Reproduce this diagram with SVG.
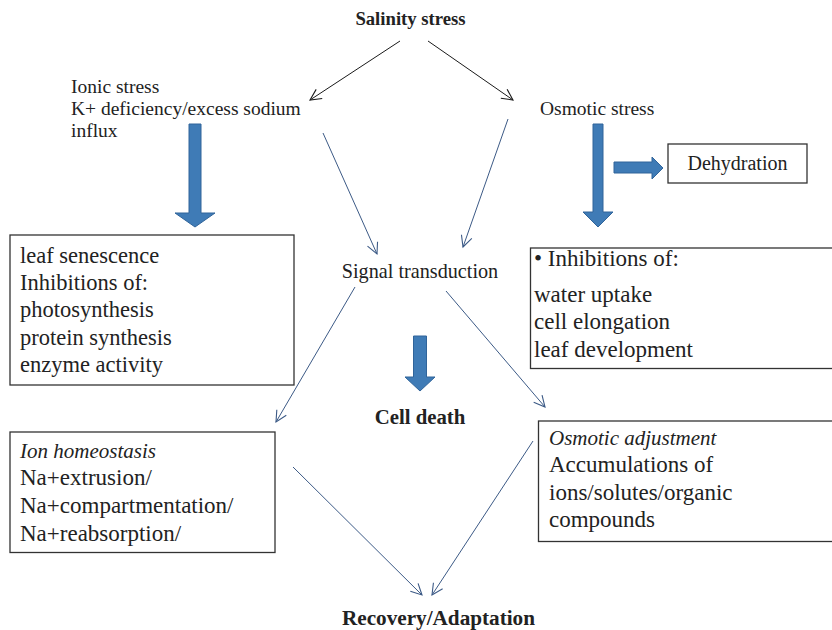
<svg xmlns="http://www.w3.org/2000/svg" width="832" height="630" viewBox="0 0 832 630" font-family="'Liberation Serif', 'Times New Roman', serif">
<style>
text{font-family:"Liberation Serif","Times New Roman",serif;fill:#222}
.lbl{font-size:19.5px}
.tb{font-size:22.5px}
.tc{font-size:23px}
.ti{font-style:italic;font-size:21px}
.b{font-weight:bold}
.box{fill:#fff;stroke:#333;stroke-width:1.3}
.big{fill:#3f7bb6;stroke:#30649a;stroke-width:1}
.k{stroke:#1a1a1a;stroke-width:1;fill:none}
.u{stroke:#3c5a86;stroke-width:1;fill:none}
</style>
<defs>
<marker id="ak" markerUnits="userSpaceOnUse" markerWidth="14" markerHeight="14" viewBox="0 0 14 14" refX="12" refY="7" orient="auto">
<path d="M1,1.5 L12,7 L1,12.5" fill="none" stroke="#1a1a1a" stroke-width="1.1"/>
</marker>
<marker id="au" markerUnits="userSpaceOnUse" markerWidth="14" markerHeight="14" viewBox="0 0 14 14" refX="12" refY="7" orient="auto">
<path d="M1,1.5 L12,7 L1,12.5" fill="none" stroke="#3c5a86" stroke-width="1.1"/>
</marker>
</defs>

<g id="connectors">
<line class="k" x1="400" y1="41" x2="310" y2="100" marker-end="url(#ak)"/>
<line class="k" x1="428" y1="41" x2="513" y2="100" marker-end="url(#ak)"/>
<line class="u" x1="323" y1="133" x2="377" y2="254" marker-end="url(#au)"/>
<line class="u" x1="508" y1="119" x2="463" y2="247" marker-end="url(#au)"/>
<line class="u" x1="355" y1="287" x2="276" y2="422" marker-end="url(#au)"/>
<line class="u" x1="446" y1="291" x2="545" y2="407" marker-end="url(#au)"/>
<line class="u" x1="293" y1="467" x2="422" y2="595" marker-end="url(#au)"/>
<line class="u" x1="533" y1="441" x2="432" y2="595" marker-end="url(#au)"/>
<polygon class="big" points="189,124 201,124 201,213 215,213 195,227 175,213 189,213"/>
<polygon class="big" points="593,124 603,124 603,212 613,212 598,227 583,212 593,212"/>
<polygon class="big" points="413.5,336 426.5,336 426.5,377 435,377 420,391 405,377 413.5,377"/>
<polygon class="big" points="614,162 652,162 652,157 663,168 652,179 652,173 614,173"/>
</g>

<g id="salinity">
<text class="b" x="410.5" y="25" style="font-size:18.7px" text-anchor="middle">Salinity stress</text>
</g>

<g id="ionic">
<text class="lbl" x="71" y="93">Ionic stress</text>
<text class="lbl" x="71" y="115">K+ deficiency/excess sodium</text>
<text class="lbl" x="71" y="137">influx</text>
</g>

<g id="osmotic">
<text class="lbl" x="540" y="115">Osmotic stress</text>
</g>

<g id="dehydration">
<rect class="box" x="668" y="144" width="139" height="39"/>
<text x="737.5" y="170" style="font-size:20px" text-anchor="middle">Dehydration</text>
</g>

<g id="ionic-effects">
<rect class="box" x="10" y="235" width="284" height="150"/>
<text class="tb" x="20" y="263">leaf senescence</text>
<text class="tb" x="20" y="290">Inhibitions of:</text>
<text class="tb" x="20" y="317">photosynthesis</text>
<text class="tb" x="20" y="345">protein synthesis</text>
<text class="tb" x="20" y="372">enzyme activity</text>
</g>

<g id="signal">
<text x="420" y="278" style="font-size:20.2px" text-anchor="middle">Signal transduction</text>
</g>

<g id="osmotic-effects">
<rect class="box" x="530.5" y="248" width="310" height="120.5"/>
<text class="tc" x="534" y="266">• Inhibitions of:</text>
<text class="tc" x="534" y="302">water uptake</text>
<text class="tc" x="534" y="329">cell elongation</text>
<text class="tc" x="534" y="356.5">leaf development</text>
</g>

<g id="cell-death">
<text class="b" x="420" y="424" style="font-size:20.8px" text-anchor="middle">Cell death</text>
</g>

<g id="ion-homeostasis">
<rect class="box" x="10" y="432" width="265" height="120.5"/>
<text class="ti" x="20" y="458">Ion homeostasis</text>
<text class="tc" x="20" y="485">Na+extrusion/</text>
<text class="tc" x="20" y="512.5">Na+compartmentation/</text>
<text class="tc" x="20" y="540.5">Na+reabsorption/</text>
</g>

<g id="osmotic-adjustment">
<rect class="box" x="538.5" y="421" width="310" height="120.5"/>
<text class="ti" x="549" y="445">Osmotic adjustment</text>
<text class="tc" x="549" y="472">Accumulations of</text>
<text class="tc" x="549" y="499.5">ions/solutes/organic</text>
<text class="tc" x="549" y="527">compounds</text>
</g>

<g id="recovery">
<text class="b" x="438.5" y="625" style="font-size:21.2px" text-anchor="middle">Recovery/Adaptation</text>
</g>
</svg>
